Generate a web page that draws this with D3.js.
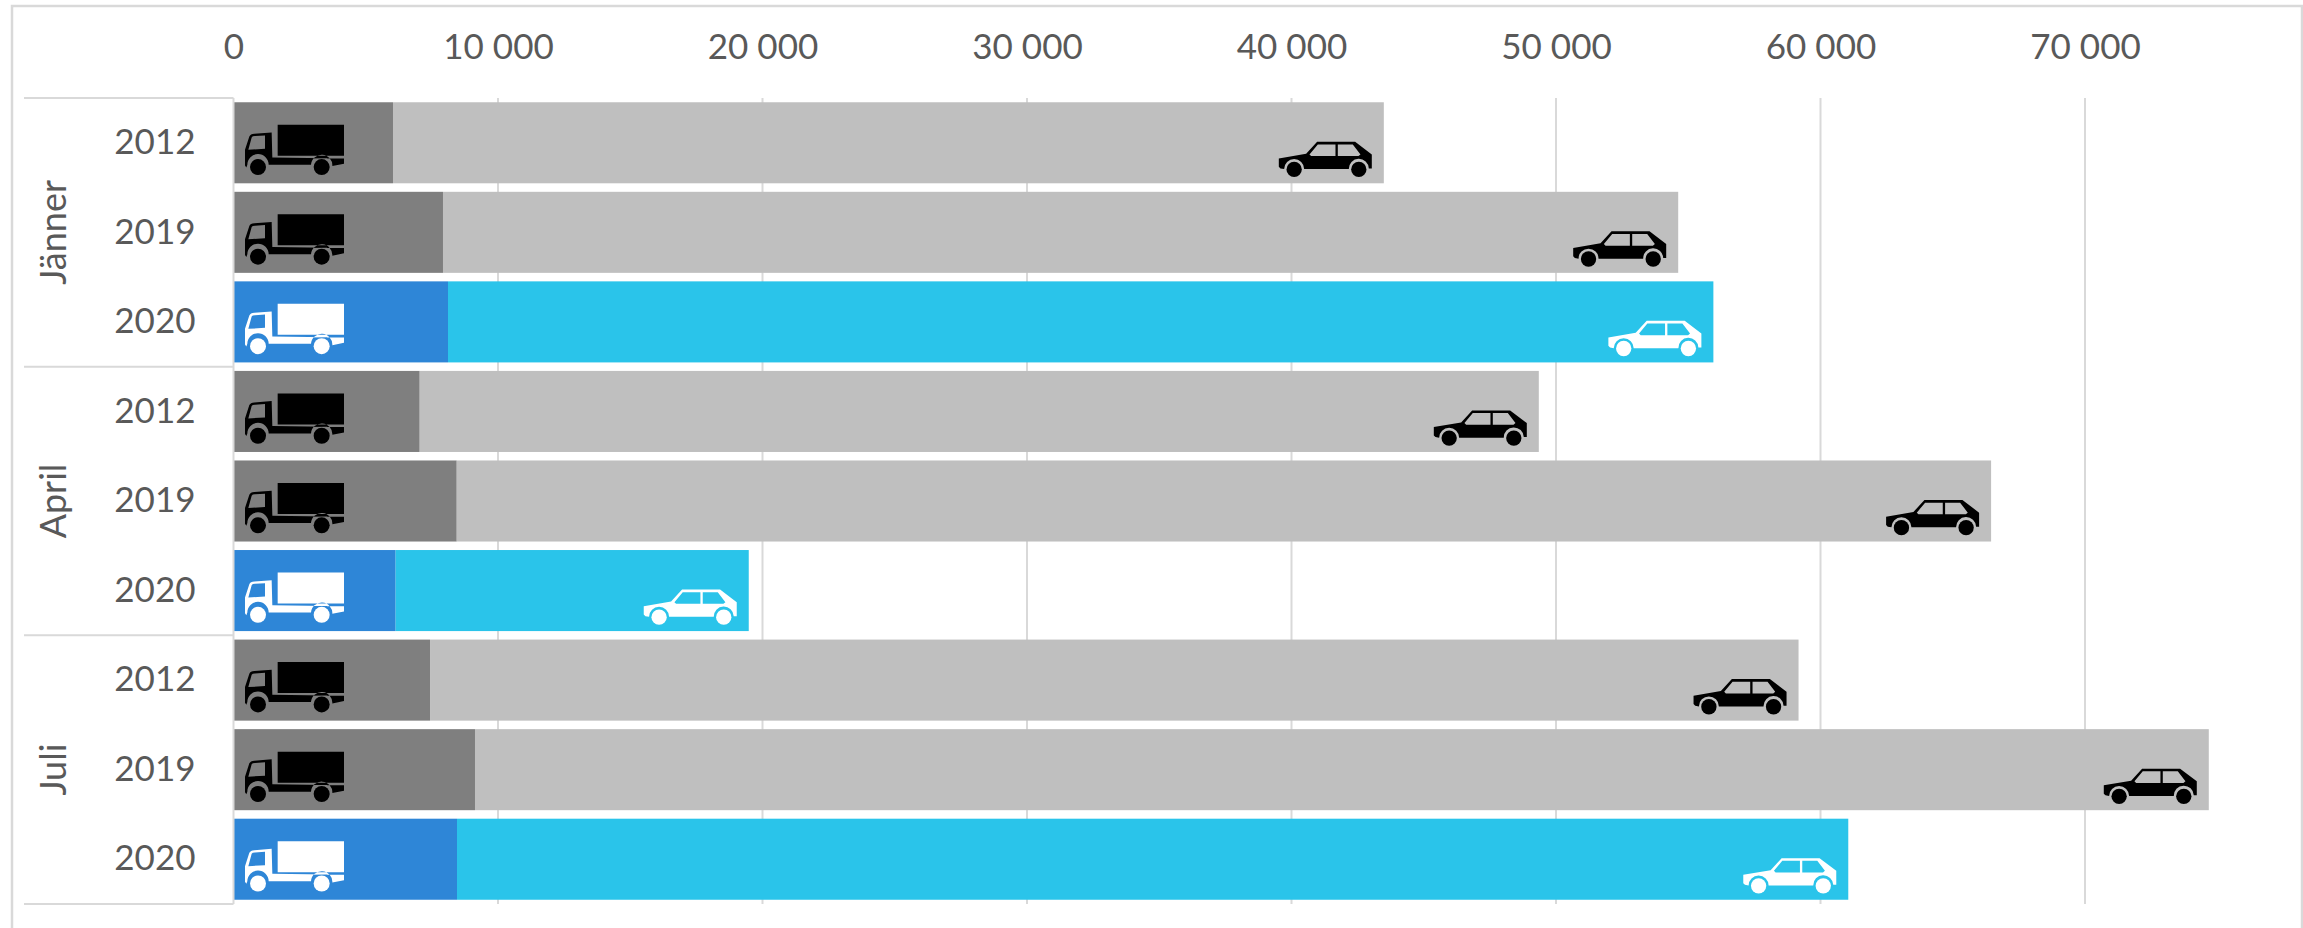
<!DOCTYPE html>
<html lang="de">
<head>
<meta charset="UTF-8">
<title>Verkehr Jänner April Juli</title>
<script src="https://cdnjs.cloudflare.com/ajax/libs/d3/7.8.5/d3.min.js"></script>
<style>
  html, body { margin: 0; background: #fff; }
  text { font-family: Lato, "Open Sans", sans-serif; fill: #595959; }
</style>
</head>
<body>
<script type="text/javascript">

var months = ["Jänner", "April", "Juli"];
var years = ["2012", "2019", "2020"];
var xTicks = [0, 10000, 20000, 30000, 40000, 50000, 60000, 70000];

// one value per month/year row, top to bottom
var lkw = [6030, 7920, 8110, 7040, 8440, 6130, 7430, 9130, 8450];
var pkw = [37460, 46700, 47840, 42310, 58010, 13350, 51740, 65550, 52600];

var width = 2303, height = 928;
var margin = { top: 98, left: 233.5, bottom: 24, right: 218 };

var rows = [];
months.forEach(function (m, i) {
  years.forEach(function (y, j) {
    var k = i * years.length + j;
    rows.push({ id: m + y, month: m, year: y, lkw: lkw[k], pkw: pkw[k] });
  });
});

var x = d3.scaleLinear()
  .domain([0, 70000])
  .range([margin.left, width - margin.right]);
var y = d3.scaleBand()
  .domain(rows.map(function (d) { return d.id; }))
  .range([margin.top, height - margin.bottom])
  .paddingInner(0.095)
  .paddingOuter(0.0475);
var monthY = d3.scaleBand()
  .domain(months)
  .range([margin.top, height - margin.bottom]);

var stack = d3.stack().keys(["lkw", "pkw"])(rows);
var colors = {
  lkw: function (d) { return d.year === "2020" ? "#2e86d7" : "#7f7f7f"; },
  pkw: function (d) { return d.year === "2020" ? "#2ac4ea" : "#bfbfbf"; }
};

var svg = d3.select("body").append("svg")
  .attr("width", width)
  .attr("height", height)
  .style("display", "block");

// outer frame
svg.append("rect")
  .attr("x", 12).attr("y", 6)
  .attr("width", width - 13).attr("height", height)
  .attr("fill", "#fff")
  .attr("stroke", "#d9d9d9")
  .attr("stroke-width", 2.5);

// grid
svg.selectAll(".grid")
  .data(xTicks.slice(1))
  .enter().append("line")
  .attr("class", "grid")
  .attr("x1", x).attr("x2", x)
  .attr("y1", margin.top).attr("y2", height - margin.bottom)
  .attr("stroke", "#d9d9d9")
  .attr("stroke-width", 2);

// bars
stack.forEach(function (s) {
  svg.selectAll(".bar-" + s.key)
    .data(s)
    .enter().append("rect")
    .attr("class", "bar-" + s.key)
    .attr("x", function (d) { return x(d[0]); })
    .attr("y", function (d) { return y(d.data.id); })
    .attr("width", function (d) { return x(d[1]) - x(d[0]); })
    .attr("height", y.bandwidth())
    .attr("fill", function (d) { return colors[s.key](d.data); });
});

// x axis on top
var fmt = d3.formatLocale({ thousands: " ", grouping: [3], decimal: ",", currency: ["", ""] }).format(",");
var axisX = svg.append("g")
  .attr("transform", "translate(0," + margin.top + ")")
  .call(d3.axisTop(x).tickValues(xTicks).tickFormat(fmt).tickSize(0).tickPadding(39));
axisX.select(".domain").remove();
axisX.selectAll("text")
  .style("font-family", "Lato, 'Open Sans', sans-serif")
  .style("font-size", "35px")
  .attr("fill", "#595959");

// year labels
var axisY = svg.append("g")
  .attr("transform", "translate(" + margin.left + ",0)")
  .call(d3.axisLeft(y)
    .tickFormat(function (id) { return id.slice(-4); })
    .tickSize(0).tickPadding(38));
axisY.select(".domain").remove();
axisY.selectAll("text")
  .style("font-family", "Lato, 'Open Sans', sans-serif")
  .style("font-size", "35px")
  .attr("fill", "#595959");

// month labels
svg.selectAll(".month")
  .data(months)
  .enter().append("text")
  .attr("class", "month")
  .attr("text-anchor", "middle")
  .attr("dy", "0.35em")
  .attr("transform", function (m) {
    return "translate(53," + (monthY(m) + monthY.bandwidth() / 2) + ") rotate(-90)";
  })
  .style("font-size", "36px")
  .text(function (m) { return m; });

// category separators and axis line
svg.selectAll(".sep")
  .data(months.concat(["end"]))
  .enter().append("line")
  .attr("class", "sep")
  .attr("x1", 24).attr("x2", margin.left)
  .attr("y1", function (m) { return m === "end" ? height - margin.bottom : monthY(m); })
  .attr("y2", function (m) { return m === "end" ? height - margin.bottom : monthY(m); })
  .attr("stroke", "#d9d9d9")
  .attr("stroke-width", 2);
svg.append("line")
  .attr("x1", margin.left).attr("x2", margin.left)
  .attr("y1", margin.top).attr("y2", height - margin.bottom)
  .attr("stroke", "#d9d9d9")
  .attr("stroke-width", 2);

// icons, drawn at 3x in their own coordinates
var truckPath = "M98 0H297V93H98Z" +
  "M0 122V75L13 35Q16 28 28 27L80 23L82 98L297 101V117L262 124A32 32 0 0 0 198 120L71 120A32 32 0 0 0 7 120L4 128Z" +
  "M10 75L20 38Q22 34 30 34L60 32V72Z";
var carPath = "M0 50L82 36L115 0H229L279 38V80H270A30 30 0 0 0 210 82L76 82A30 30 0 0 0 16 82L5 80L0 75Z" +
  "M92 38L117 8H170V43H97Z" +
  "M177 8H222L245 38L239 43H177Z";

function iconFill(d) { return d.year === "2020" ? "#fff" : "#000"; }

var truck = svg.selectAll(".truck")
  .data(rows)
  .enter().append("g")
  .attr("class", "truck")
  .attr("fill", iconFill)
  .attr("transform", function (d) {
    return "translate(245," + (y(d.id) + 22.5) + ") scale(" + 1 / 3 + ")";
  });
truck.append("path").attr("d", truckPath).attr("fill-rule", "evenodd");
truck.selectAll("circle")
  .data([39, 230])
  .enter().append("circle")
  .attr("cx", function (c) { return c; })
  .attr("cy", 127)
  .attr("r", 24);

var car = svg.selectAll(".car")
  .data(rows)
  .enter().append("g")
  .attr("class", "car")
  .attr("fill", iconFill)
  .attr("transform", function (d) {
    return "translate(" + (x(d.lkw + d.pkw) - 105) + "," + (y(d.id) + 39.5) + ") scale(" + 1 / 3 + ")";
  });
car.append("path").attr("d", carPath).attr("fill-rule", "evenodd");
car.selectAll("circle")
  .data([46, 240])
  .enter().append("circle")
  .attr("cx", function (c) { return c; })
  .attr("cy", 83)
  .attr("r", 23);

</script>
</body>
</html>
